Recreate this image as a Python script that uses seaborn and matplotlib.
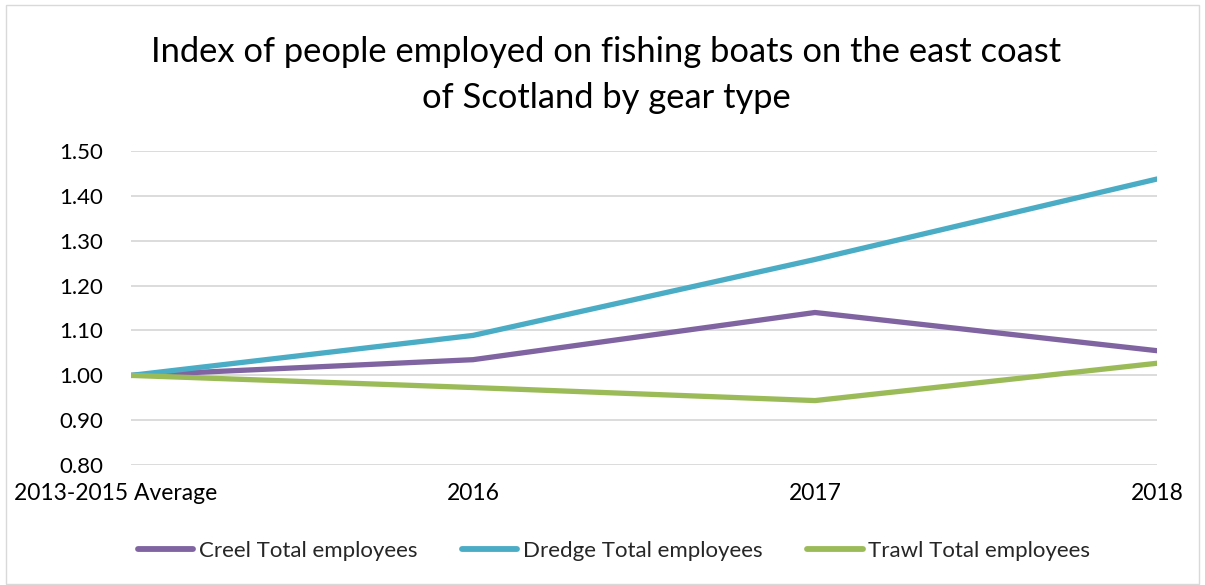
import matplotlib
matplotlib.use("Agg")
import matplotlib.pyplot as plt
import matplotlib.transforms as mtransforms
import seaborn as sns
import pandas as pd
from matplotlib.patches import Rectangle
from matplotlib.lines import Line2D

categories = ["2013-2015 Average", "2016", "2017", "2018"]
creel = [1.00, 1.035, 1.140, 1.055]
dredge = [1.00, 1.089, 1.258, 1.437]
trawl = [1.00, 0.973, 0.944, 1.027]
series_names = ["Creel Total employees", "Dredge Total employees", "Trawl Total employees"]
colors = ["#8064A2", "#4BACC6", "#9BBB59"]

rows = []
for name, vals in zip(series_names, [creel, dredge, trawl]):
    for i, (c, v) in enumerate(zip(categories, vals)):
        rows.append({"pos": i, "cat": c, "value": v, "series": name})
df = pd.DataFrame(rows)

sns.set_theme(style="white")
plt.rcParams["font.family"] = ["Lato", "DejaVu Sans"]

fig = plt.figure(figsize=(12.05, 5.85), dpi=100)
ax = fig.add_axes([131/1205, 1 - 465.3/585, (1157-131)/1205, (465.3-150.7)/585])

sns.lineplot(data=df, x="pos", y="value", hue="series", palette=colors,
             linewidth=3.8, ax=ax, legend=False, sort=False)

ax.set_xlim(0, 3)
ax.set_ylim(0.8, 1.5)
ax.set_yticks([0.8 + 0.1*i for i in range(8)])
ax.set_yticklabels([f"{0.8 + 0.1*i:.2f}" for i in range(8)])
ax.set_xticks(range(len(categories)))
ax.set_xticklabels(categories)
ax.tick_params(axis="both", length=0, labelsize=16, colors="#000000")
ax.tick_params(axis="x", labelsize=16.5)
ax.tick_params(axis="y", pad=20)
ax.tick_params(axis="x", pad=13)
ax.set_xlabel("")
ax.set_ylabel("")
ax.yaxis.grid(True, color="#D9D9D9", linewidth=1.3)
ax.set_axisbelow(True)
for s in ax.spines.values():
    s.set_visible(False)

# shift first category label left as in the reference
first = ax.get_xticklabels()[0]
first.set_transform(first.get_transform() + mtransforms.ScaledTranslation(-15/100, 0, fig.dpi_scale_trans))

fig.text(0.503, 1 - 75/585, "Index of people employed on fishing boats on the east coast\nof Scotland by gear type",
         ha="center", va="center", fontsize=24.8, linespacing=1.5, color="#000000")

handles = [Line2D([0], [0], color=c, linewidth=4.2, solid_capstyle="round") for c in colors]
fig.legend(handles, series_names, loc="center", bbox_to_anchor=(0.5095, 1 - 551/585), ncol=3,
           frameon=False, fontsize=16, handlelength=2.5, handletextpad=0.25, columnspacing=2.0)

fig.patches.append(Rectangle((6/1205, 0.002), 1 - 12/1205, 0.99, transform=fig.transFigure,
                             fill=False, edgecolor="#D9D9D9", linewidth=1.0))

fig.savefig("out.png", dpi=100, facecolor="white")
